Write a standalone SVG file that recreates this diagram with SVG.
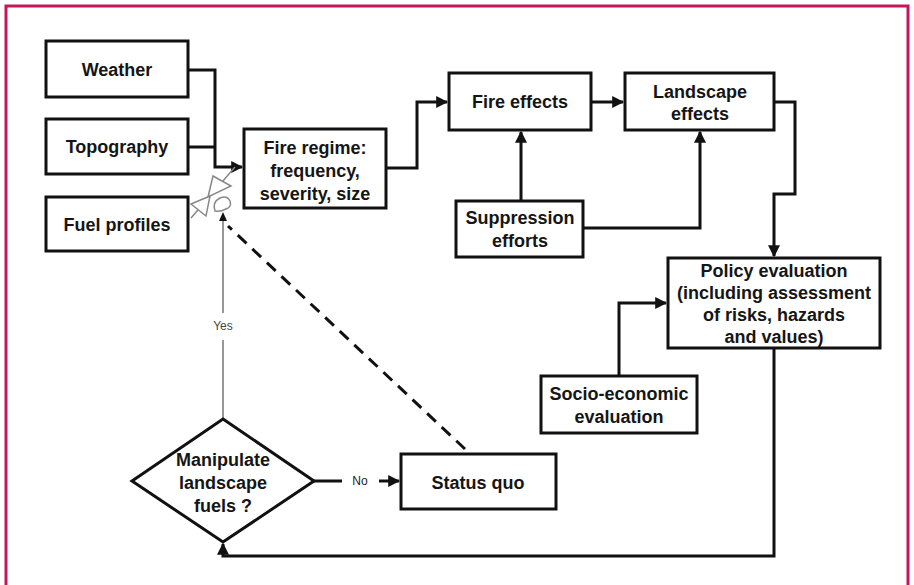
<svg xmlns="http://www.w3.org/2000/svg" width="914" height="585" viewBox="0 0 914 585">
<style>
.box{fill:#fff;stroke:#111;stroke-width:3}
.t{font-family:"Liberation Sans",Arial,sans-serif;font-weight:bold;font-size:18px;fill:#151515;text-anchor:middle;dominant-baseline:central}
.s{font-family:"Liberation Sans",Arial,sans-serif;font-size:12px;text-anchor:middle;dominant-baseline:central}
.c{fill:none;stroke:#111;stroke-width:3}
</style>
<defs>
<marker id="ah" viewBox="0 0 10 10" refX="9" refY="5" markerWidth="4" markerHeight="4" orient="auto" markerUnits="strokeWidth">
<path d="M0,0 L10,5 L0,10 z" fill="#111"/>
</marker>
</defs>
<rect width="914" height="585" fill="#fff"/>
<path d="M6,585 V6 H908 V585" fill="none" stroke="#c8145a" stroke-width="3"/>

<g id="connectors">
<path class="c" d="M188,70 H215 V167 H242" marker-end="url(#ah)"/>
<path class="c" d="M188,147 H215"/>
<path class="c" d="M386,168 H417 V102 H447" marker-end="url(#ah)"/>
<path class="c" d="M591,102 H623" marker-end="url(#ah)"/>
<path class="c" d="M521,201 V132" marker-end="url(#ah)"/>
<path class="c" d="M583,228 H700 V132" marker-end="url(#ah)"/>
<path class="c" d="M774,102 H795 V194 H774 V256" marker-end="url(#ah)"/>
<path class="c" d="M619,376 V303 H666" marker-end="url(#ah)"/>
<path class="c" d="M774,348 V556 H223 V544" marker-end="url(#ah)"/>
<path class="c" d="M314,481 H342"/>
<path class="c" d="M379,481 H399" marker-end="url(#ah)"/>
<path d="M465,449 L228,226" fill="none" stroke="#111" stroke-width="3" stroke-dasharray="12,8"/>
<path d="M223,419 V340 M223,313 V218" fill="none" stroke="#777" stroke-width="1.5"/>
<path d="M223,212 l-4,9 h8 z" fill="#111"/>
<text class="s" x="223" y="326" fill="#444">Yes</text>
<text class="s" x="360" y="481" fill="#222">No</text>
</g>

<g id="valve" fill="#fff" stroke="#888" stroke-width="1.5">
<path d="M191,218 L235,167" fill="none"/>
<polygon points="213,176 231,186 208,197"/>
<polygon points="191,204 210,196 206,216"/>
<path d="M215,211 q-3,-9 5,-13 q7,-3 10,3 q2,6 -4,8 q-6,3 -11,2 z"/>
</g>

<g id="weather"><rect class="box" x="46" y="41" width="142" height="56"/><text class="t" x="117" y="70">Weather</text></g>
<g id="topography"><rect class="box" x="46" y="119" width="142" height="55"/><text class="t" x="117" y="147">Topography</text></g>
<g id="fuel"><rect class="box" x="46" y="197" width="142" height="54"/><text class="t" x="117" y="225">Fuel profiles</text></g>
<g id="regime"><rect class="box" x="244" y="129" width="142" height="79"/>
<text class="t" x="315" y="148">Fire regime:</text><text class="t" x="315" y="171">frequency,</text><text class="t" x="315" y="194">severity, size</text></g>
<g id="fireeffects"><rect class="box" x="449" y="73" width="142" height="57"/><text class="t" x="520" y="102">Fire effects</text></g>
<g id="landscape"><rect class="box" x="625" y="73" width="149" height="57"/><text class="t" x="700" y="92">Landscape</text><text class="t" x="700" y="114">effects</text></g>
<g id="suppression"><rect class="box" x="456" y="201" width="127" height="56"/><text class="t" x="520" y="218">Suppression</text><text class="t" x="520" y="241">efforts</text></g>
<g id="policy"><rect class="box" x="668" y="258" width="212" height="90"/>
<text class="t" x="774" y="271">Policy evaluation</text><text class="t" x="774" y="293">(including assessment</text><text class="t" x="774" y="315">of risks, hazards</text><text class="t" x="774" y="337">and values)</text></g>
<g id="socio"><rect class="box" x="541" y="376" width="156" height="57"/><text class="t" x="619" y="394">Socio-economic</text><text class="t" x="619" y="417">evaluation</text></g>
<g id="decision"><polygon class="box" points="223,419 314,481 223,542 132,481"/>
<text class="t" x="223" y="460">Manipulate</text><text class="t" x="223" y="483">landscape</text><text class="t" x="223" y="506">fuels ?</text></g>
<g id="statusquo"><rect class="box" x="401" y="454" width="155" height="55"/><text class="t" x="478" y="483">Status quo</text></g>
</svg>
